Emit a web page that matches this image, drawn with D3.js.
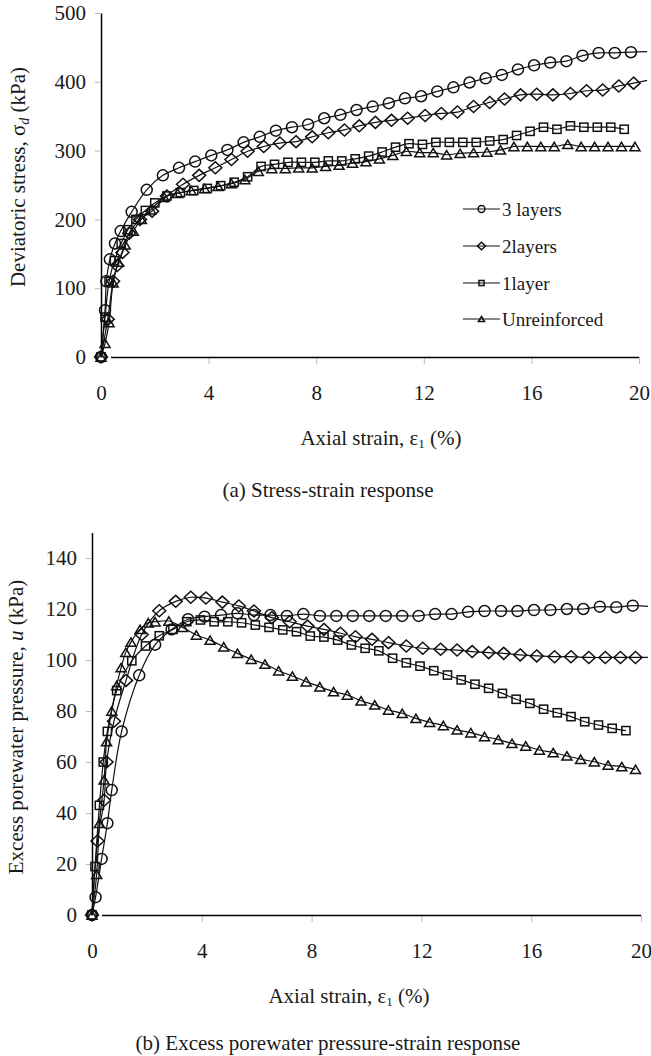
<!DOCTYPE html>
<html>
<head>
<meta charset="utf-8">
<script src="https://cdn.jsdelivr.net/npm/d3@7"></script>
<style>
  body { margin: 0; background: #fff; }
  svg { display: block; }
</style>
</head>
<body>
<div id="chart"></div>
<script>
// values: [axial strain %, value]
const strainTicks = [0, 4, 8, 12, 16, 20];
const stressTicks = [0, 100, 200, 300, 400, 500];
const poreTicks = [0, 20, 40, 60, 80, 100, 120, 140];
const seriesNames = ['3 layers', '2layers', '1layer', 'Unreinforced'];

const stress3 = [[0,0],[0.15,68],[0.2,110],[0.33,142],[0.52,165],[0.73,183],[1.14,211],[1.7,243],[2.3,264],[2.9,275],[3.5,284],[4.1,293],[4.7,301],[5.3,312],[5.9,320],[6.5,329],[7.1,334],[7.7,338],[8.3,347],[8.9,352],[9.5,359],[10.1,364],[10.7,369],[11.3,376],[11.9,379],[12.5,386],[13.1,392],[13.7,399],[14.3,405],[14.9,410],[15.5,418],[16.1,424],[16.7,428],[17.3,430],[17.9,438],[18.5,442],[19.1,442],[19.7,443],[20.3,444]];
const stress2 = [[0,0],[0.25,55],[0.45,110],[0.6,133],[0.8,152],[1.05,180],[1.45,200],[1.9,212],[2.45,234],[3.05,251],[3.65,264],[4.25,275],[4.85,287],[5.45,299],[6.05,306],[6.65,311],[7.25,313],[7.85,320],[8.45,326],[9.05,330],[9.6,336],[10.2,341],[10.8,344],[11.4,347],[12.05,351],[12.65,354],[13.25,356],[13.85,364],[14.45,370],[15.0,375],[15.6,381],[16.2,382],[16.8,381],[17.45,383],[18.05,387],[18.65,388],[19.25,394],[19.8,398],[20.3,402]];
const stress1 = [[0,0],[0.15,58],[0.3,110],[0.5,140],[0.75,165],[1.0,185],[1.3,200],[1.65,213],[2.0,224],[2.45,234],[2.95,239],[3.45,242],[3.95,245],[4.45,249],[4.95,254],[5.45,262],[5.95,277],[6.45,280],[6.95,283],[7.45,283],[7.95,283],[8.45,285],[8.95,285],[9.45,288],[9.95,292],[10.45,298],[10.95,305],[11.45,310],[11.95,309],[12.45,312],[12.95,312],[13.45,312],[13.95,312],[14.45,314],[14.95,316],[15.45,322],[15.95,328],[16.45,334],[16.95,331],[17.45,336],[17.95,334],[18.45,334],[18.95,334],[19.45,331]];
const stress0 = [[0,0],[0.15,20],[0.3,50],[0.45,108],[0.65,138],[0.9,163],[1.2,183],[1.5,200],[1.85,214],[2.35,232],[2.85,238],[3.35,242],[3.85,245],[4.35,248],[4.85,252],[5.35,258],[5.85,270],[6.35,274],[6.85,274],[7.35,275],[7.85,275],[8.35,277],[8.85,279],[9.35,282],[9.85,284],[10.35,288],[10.85,293],[11.35,299],[11.85,297],[12.35,297],[12.85,294],[13.35,296],[13.85,297],[14.35,298],[14.85,301],[15.35,306],[15.85,306],[16.35,306],[16.85,306],[17.35,309],[17.85,306],[18.35,306],[18.85,306],[19.35,306],[19.85,306]];

const pore3 = [[0,0],[0.13,7],[0.35,22],[0.56,36],[0.72,49],[1.08,72],[1.72,94],[2.3,106],[2.9,112],[3.5,116],[4.1,117],[4.7,117.6],[5.3,118.3],[5.9,117.6],[6.5,117.6],[7.1,117.3],[7.7,118],[8.3,117.3],[8.9,117.3],[9.5,117.3],[10.1,117.3],[10.7,117.3],[11.3,117.3],[11.9,117.3],[12.5,118],[13.1,118],[13.7,118.9],[14.3,119.2],[14.9,119.2],[15.5,119.2],[16.1,119.6],[16.7,119.6],[17.3,120],[17.9,120],[18.5,120.9],[19.1,120.7],[19.7,121.3],[20.3,121]];
const pore2 = [[0,0],[0.2,29],[0.44,45],[0.53,60],[0.8,76],[1.24,92],[1.81,110],[2.45,119.3],[3.05,123],[3.6,124.6],[4.15,124.3],[4.75,122.7],[5.35,121.2],[5.9,119.2],[6.55,116.6],[7.2,115],[7.85,113.3],[8.45,112],[9.05,110.5],[9.6,109.1],[10.2,108.1],[10.8,106.8],[11.45,105.5],[12.05,104.6],[12.7,104.2],[13.3,103.9],[13.85,103.3],[14.45,102.9],[15.0,102.6],[15.6,102],[16.2,101.6],[16.85,101.3],[17.45,101.3],[18.1,101],[18.7,101],[19.25,101],[19.8,101],[20.3,101]];
const pore1 = [[0,0],[0.11,19],[0.27,43],[0.41,60],[0.56,72],[0.9,88],[1.45,99.7],[1.95,105.5],[2.45,109.5],[2.95,112],[3.45,115],[3.95,115.7],[4.45,115],[4.95,115],[5.45,114.6],[5.95,113.7],[6.45,112.8],[6.95,111.8],[7.45,111.1],[7.95,109.4],[8.45,109],[8.95,107.8],[9.45,105.9],[9.95,104.6],[10.45,103.6],[10.95,100.7],[11.45,98.9],[11.95,97.6],[12.45,95.8],[12.95,94.1],[13.45,92.2],[13.95,90.5],[14.45,88.9],[14.95,86.9],[15.45,84.6],[15.95,83],[16.45,80.7],[16.95,79.3],[17.45,77.8],[17.95,75.8],[18.45,74.5],[18.95,73.2],[19.45,72.3]];
const pore0 = [[0,0],[0.17,16],[0.27,36],[0.44,53],[0.53,68],[0.72,80],[0.9,90],[1.06,97],[1.23,103],[1.42,107],[1.75,112],[2.05,114.6],[2.3,115],[2.8,115.3],[3.3,112.8],[3.8,109.8],[4.3,107.8],[4.8,105.2],[5.3,102.6],[5.8,100.3],[6.3,98.4],[6.8,95.8],[7.3,93.7],[7.8,91.5],[8.3,89.5],[8.8,87.6],[9.3,86.3],[9.8,84],[10.3,82.4],[10.8,80.4],[11.3,79.1],[11.8,77.1],[12.3,75.6],[12.8,74.3],[13.3,72.6],[13.8,71.5],[14.3,70],[14.8,68.8],[15.3,67.3],[15.8,66.3],[16.3,64.7],[16.8,63.7],[17.3,62.4],[17.8,61.1],[18.3,60.1],[18.8,58.8],[19.3,58.2],[19.8,57.1]];

const w = 651, h = 1056;
const font = '"Liberation Serif", "Times New Roman", Times, serif';
const shapes = ['circle', 'diamond', 'square', 'triangle'];

const svg = d3.select('#chart')
  .append('svg')
  .attr('width', w)
  .attr('height', h)
  .attr('font-family', font);

// draws one hollow marker; big = plot marker, otherwise legend size
const drawMarker = (g, shape, x, y, big) => {
  const k = big ? 1 : 0.62;
  let p;
  if (shape === 'circle') {
    p = g.append('circle').attr('cx', x).attr('cy', y).attr('r', 5.5 * k);
  } else if (shape === 'diamond') {
    const a = 6.5 * k, b = 6 * k;
    p = g.append('path').attr('d', `M${x},${y - b}L${x + a},${y}L${x},${y + b}L${x - a},${y}Z`);
  } else if (shape === 'square') {
    const a = 4.1 * k;
    p = g.append('rect').attr('x', x - a).attr('y', y - a).attr('width', 2 * a).attr('height', 2 * a);
  } else {
    const a = 5 * k, b = 4.2 * k;
    p = g.append('path').attr('d', `M${x},${y - b}L${x + a},${y + b}L${x - a},${y + b}Z`);
  }
  p.attr('fill', 'none').attr('stroke', '#111').attr('stroke-width', 1.5);
};

const buildPanel = (cfg) => {
  const xScale = d3.scaleLinear().domain([0, 20]).range(cfg.xRange);
  const yScale = d3.scaleLinear().domain([0, cfg.yMax]).range(cfg.yRange);
  const y0 = yScale(0);

  // y axis
  const gy = svg.append('g')
    .attr('transform', `translate(${cfg.xRange[0]},0)`)
    .call(d3.axisLeft(yScale).tickValues(cfg.yTicks).tickSize(6).tickPadding(9).tickSizeOuter(0));
  gy.attr('font-family', font).attr('font-size', 21);
  gy.select('.domain').attr('stroke', '#000').attr('stroke-width', 1.5);
  gy.selectAll('.tick line').attr('stroke', '#bbb');
  gy.selectAll('.tick text').attr('fill', '#1a1a1a');

  // x axis
  const gx = svg.append('g')
    .attr('transform', `translate(0,${y0})`)
    .call(d3.axisBottom(xScale).tickValues(strainTicks).tickSize(7).tickPadding(21));
  gx.attr('font-family', font).attr('font-size', 21);
  gx.select('.domain').remove();
  gx.selectAll('.tick line').attr('stroke', '#bbb').filter(d => d === 0).remove();
  gx.selectAll('.tick text').attr('fill', '#1a1a1a');
  gx.append('line')
    .attr('x1', xScale(0) + 10).attr('x2', xScale(20))
    .attr('y1', 0.5).attr('y2', 0.5)
    .attr('stroke', '#000').attr('stroke-width', 1.5);

  // series
  const clipId = 'clip' + cfg.id;
  svg.append('clipPath').attr('id', clipId)
    .append('rect').attr('x', 0).attr('y', 0).attr('width', 648).attr('height', h);

  const line = d3.line()
    .x(d => xScale(d[0]))
    .y(d => yScale(d[1]))
    .curve(d3.curveCatmullRom.alpha(0.5));

  const plot = svg.append('g').attr('clip-path', `url(#${clipId})`);
  cfg.series.forEach((data, i) => {
    plot.append('path')
      .attr('d', line(data))
      .attr('fill', 'none')
      .attr('stroke', '#111')
      .attr('stroke-width', 1.2);
    data.filter(d => d[0] <= 20).forEach(d => drawMarker(plot, shapes[i], xScale(d[0]), yScale(d[1]), true));
  });

  // y title
  const yt = svg.append('text')
    .attr('transform', `translate(${cfg.yTitlePos[0]},${cfg.yTitlePos[1]}) rotate(-90)`)
    .attr('text-anchor', 'middle')
    .attr('font-size', 21)
    .attr('fill', '#1a1a1a');
  cfg.yTitle(yt);

  // x title
  const xt = svg.append('text')
    .attr('x', cfg.xTitlePos[0]).attr('y', cfg.xTitlePos[1])
    .attr('text-anchor', 'middle')
    .attr('font-size', 21)
    .attr('fill', '#1a1a1a');
  xt.append('tspan').text('Axial strain, ε');
  xt.append('tspan').attr('font-size', 13).attr('dy', 3).text('1');
  xt.append('tspan').attr('dy', -3).text(' (%)');

  // caption
  svg.append('text')
    .attr('x', cfg.captionPos[0]).attr('y', cfg.captionPos[1])
    .attr('text-anchor', 'middle')
    .attr('font-size', 21)
    .attr('fill', '#1a1a1a')
    .text(cfg.caption);
};

buildPanel({
  id: 'a',
  xRange: [101, 639],
  yRange: [357, 13],
  yMax: 500,
  yTicks: stressTicks,
  series: [stress3, stress2, stress1, stress0],
  yTitlePos: [25, 177],
  yTitle: t => {
    t.append('tspan').text('Deviatoric stress, σ');
    t.append('tspan').attr('font-size', 14).attr('font-style', 'italic').attr('dy', 4).text('d');
    t.append('tspan').attr('dy', -4).text(' (kPa)');
  },
  xTitlePos: [381, 445],
  caption: '(a) Stress-strain response',
  captionPos: [328, 497]
});

buildPanel({
  id: 'b',
  xRange: [92, 641],
  yRange: [915, 532.5],
  yMax: 150,
  yTicks: poreTicks,
  series: [pore3, pore2, pore1, pore0],
  yTitlePos: [23, 727],
  yTitle: t => {
    t.append('tspan').text('Excess porewater pressure, ');
    t.append('tspan').attr('font-style', 'italic').text('u');
    t.append('tspan').text(' (kPa)');
  },
  xTitlePos: [349, 1003],
  caption: '(b) Excess porewater pressure-strain response',
  captionPos: [328, 1050]
});

// legend (top panel)
const legendY = [209, 246, 283, 319];
const legend = svg.append('g');
seriesNames.forEach((name, i) => {
  const cy = legendY[i];
  legend.append('line')
    .attr('x1', 463).attr('x2', 500)
    .attr('y1', cy).attr('y2', cy)
    .attr('stroke', '#111').attr('stroke-width', 1.2);
  drawMarker(legend, shapes[i], 481.5, cy, false);
  legend.append('text')
    .attr('x', 502).attr('y', cy + 7)
    .attr('font-size', 19)
    .attr('fill', '#1a1a1a')
    .text(name);
});
</script>
</body>
</html>
